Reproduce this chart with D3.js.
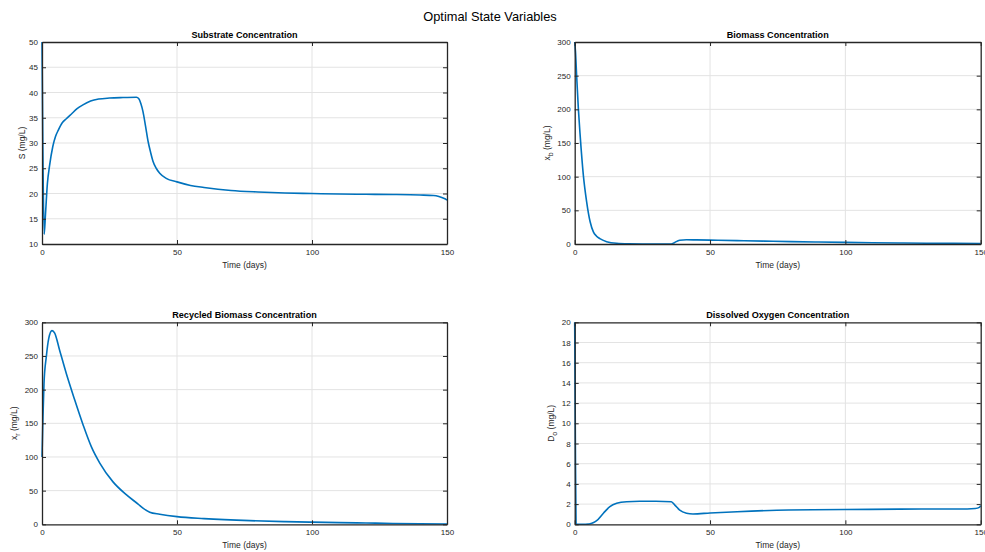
<!DOCTYPE html>
<html>
<head>
<meta charset="utf-8">
<script src="https://cdn.jsdelivr.net/npm/d3@7"></script>
<style>
  body { margin: 0; background: #fff; }
  svg { font-family: "Liberation Sans", Arial, sans-serif; }
</style>
</head>
<body>
<svg id="chart" width="985" height="552"></svg>
<script>
// time samples (days), one list per panel
var tS = [0, 0.3, 0.8, 1.3, 2, 2.8, 4, 5, 6, 7.5, 9, 11, 13, 15, 18, 21, 25, 30, 35, 35.8, 36.6, 37.4, 38.3, 39.3, 40.2, 41.1, 42.3, 43.6, 46, 50, 55, 60, 70, 80, 90, 100, 110, 120, 130, 140, 145, 147, 149, 150];
var sVals = [50, 30, 11.9, 16, 22, 25.5, 29.3, 31.3, 32.5, 34, 34.8, 35.8, 36.8, 37.5, 38.3, 38.7, 38.9, 39, 39.05, 38.8, 37.8, 36.2, 33.5, 30.3, 28.2, 26.4, 25, 24, 23, 22.3, 21.6, 21.2, 20.6, 20.3, 20.1, 20.0, 19.9, 19.85, 19.8, 19.7, 19.6, 19.4, 19.0, 18.7];

var tXb = [0, 0.3, 0.7, 1.35, 2, 3.2, 4.4, 5.7, 6.9, 8, 9.3, 11.8, 15.5, 20, 25, 30, 35.7, 36.8, 38, 38.8, 41.3, 45, 50, 60, 70, 80, 90, 100, 110, 120, 130, 140, 150];
var xbVals = [300, 285, 251, 201, 162, 102, 63, 33, 18, 12, 8, 3.5, 1, 0.3, 0.1, 0.1, 0.1, 2, 4.5, 5.5, 6.3, 6.1, 5.8, 5.0, 4.3, 3.6, 3, 2.4, 1.9, 1.5, 1.2, 0.9, 0.7];

var tXr = [0, 0.37, 0.74, 1.6, 2.5, 3.7, 4.7, 6.5, 9, 12.1, 15.2, 18.3, 21.4, 26.3, 31.2, 35.6, 37.4, 39.9, 43.6, 50, 60, 77, 90, 100, 110, 120, 130, 140, 150];
var xrVals = [100, 160, 209, 249, 276, 287.6, 284, 259, 224, 185, 148, 115, 91, 63, 44, 30, 24, 18, 15, 11.4, 8.5, 5.4, 4, 3.2, 2.5, 1.9, 1.3, 0.8, 0.5];

var tDo = [0, 0.25, 0.5, 1, 3, 5, 5.7, 7, 8.1, 10.6, 13, 15.5, 19.2, 24, 30, 35.7, 37, 38.8, 41.3, 43.7, 50, 60, 79, 100, 120, 140, 145, 148, 149.5, 150];
var doVals = [20, 8, 0.05, 0, 0, 0.02, 0.05, 0.18, 0.36, 1.1, 1.75, 2.08, 2.24, 2.28, 2.28, 2.24, 1.9, 1.4, 1.1, 1.02, 1.12, 1.25, 1.42, 1.46, 1.5, 1.52, 1.52, 1.56, 1.68, 1.85];

var xTicks = [0, 50, 100, 150];
var sTicks = [10, 15, 20, 25, 30, 35, 40, 45, 50];
var xbTicks = [0, 50, 100, 150, 200, 250, 300];
var xrTicks = [0, 50, 100, 150, 200, 250, 300];
var doTicks = [0, 2, 4, 6, 8, 10, 12, 14, 16, 18, 20];

var panels = [
  { title: 'Substrate Concentration', t: tS, v: sVals, yTicks: sTicks, yDomain: [10, 50],
    ylab: ['S', '', ' (mg/L)'], labOff: -17, left: 42, top: 42, width: 405 },
  { title: 'Biomass Concentration', t: tXb, v: xbVals, yTicks: xbTicks, yDomain: [0, 300],
    ylab: ['x', 'b', ' (mg/L)'], labOff: -25, left: 574.7, top: 42, width: 406 },
  { title: 'Recycled Biomass Concentration', t: tXr, v: xrVals, yTicks: xrTicks, yDomain: [0, 300],
    ylab: ['x', 'r', ' (mg/L)'], labOff: -25, left: 42, top: 322.3, width: 405 },
  { title: 'Dissolved Oxygen Concentration', t: tDo, v: doVals, yTicks: doTicks, yDomain: [0, 20],
    ylab: ['D', 'o', ' (mg/L)'], labOff: -21, left: 574.7, top: 322.3, width: 406 }
];

var svg = d3.select('#chart');
var axisColor = '#262626';
var panelHeight = 202;

svg.append('text')
  .attr('x', 490)
  .attr('y', 21)
  .attr('text-anchor', 'middle')
  .style('font-size', '12.8px')
  .style('fill', '#000')
  .text('Optimal State Variables');

panels.forEach(drawPanel);

function drawPanel(p) {
  var w = p.width, h = panelHeight;
  var g = svg.append('g').attr('transform', 'translate(' + p.left + ',' + p.top + ')');

  var x = d3.scaleLinear().domain([0, 150]).range([0, w]);
  var y = d3.scaleLinear().domain(p.yDomain).range([h, 0]);

  // grid
  g.append('g').selectAll('line.gx')
    .data(xTicks.slice(1, -1))
    .enter().append('line')
    .attr('x1', function(d) { return x(d); })
    .attr('x2', function(d) { return x(d); })
    .attr('y1', 0).attr('y2', h)
    .style('stroke', '#e3e3e3').style('stroke-width', 1);

  g.append('g').selectAll('line.gy')
    .data(p.yTicks.slice(1, -1))
    .enter().append('line')
    .attr('y1', function(d) { return y(d); })
    .attr('y2', function(d) { return y(d); })
    .attr('x1', 0).attr('x2', w)
    .style('stroke', '#e3e3e3').style('stroke-width', 1);

  // curve
  var line = d3.line()
    .x(function(d, i) { return x(p.t[i]); })
    .y(function(d) { return y(d); })
    .curve(d3.curveMonotoneX);

  g.append('path')
    .datum(p.v)
    .attr('d', line)
    .style('fill', 'none')
    .style('stroke', '#0072BD')
    .style('stroke-width', 1.6);

  // axes, ticks inside like matlab
  var bottom = g.append('g').attr('transform', 'translate(0,' + h + ')')
    .call(d3.axisBottom(x).tickValues(xTicks).tickSizeInner(-4).tickSizeOuter(0).tickPadding(5));
  var top = g.append('g')
    .call(d3.axisTop(x).tickValues(xTicks).tickSizeInner(-4).tickSizeOuter(0).tickFormat(''));
  var left = g.append('g')
    .call(d3.axisLeft(y).tickValues(p.yTicks).tickSizeInner(-4).tickSizeOuter(0).tickPadding(4));
  var right = g.append('g').attr('transform', 'translate(' + w + ',0)')
    .call(d3.axisRight(y).tickValues(p.yTicks).tickSizeInner(-4).tickSizeOuter(0).tickFormat(''));

  [bottom, top, left, right].forEach(function(a) {
    a.select('.domain').style('stroke', axisColor).style('stroke-width', 1.3);
    a.selectAll('.tick line').style('stroke', axisColor);
    a.selectAll('.tick text').style('fill', axisColor).style('font-size', '8px').style('font-family', '"Liberation Sans", Arial, sans-serif');
  });

  g.append('text')
    .attr('x', w / 2)
    .attr('y', -4)
    .attr('text-anchor', 'middle')
    .style('font-size', '9.1px')
    .style('font-weight', 'bold')
    .style('fill', '#000')
    .text(p.title);

  g.append('text')
    .attr('x', w / 2)
    .attr('y', h + 24)
    .attr('text-anchor', 'middle')
    .style('font-size', '8.5px')
    .style('fill', axisColor)
    .text('Time (days)');

  var yl = g.append('text')
    .attr('transform', 'translate(' + p.labOff + ',' + (h / 2) + ') rotate(-90)')
    .attr('text-anchor', 'middle')
    .style('font-size', '8.5px')
    .style('fill', axisColor);
  yl.append('tspan').text(p.ylab[0]);
  if (p.ylab[1]) {
    yl.append('tspan').attr('dy', 3).style('font-size', '7px').text(p.ylab[1]);
    yl.append('tspan').attr('dy', -3).text(p.ylab[2]);
  } else {
    yl.append('tspan').text(p.ylab[2]);
  }
}
</script>
</body>
</html>
